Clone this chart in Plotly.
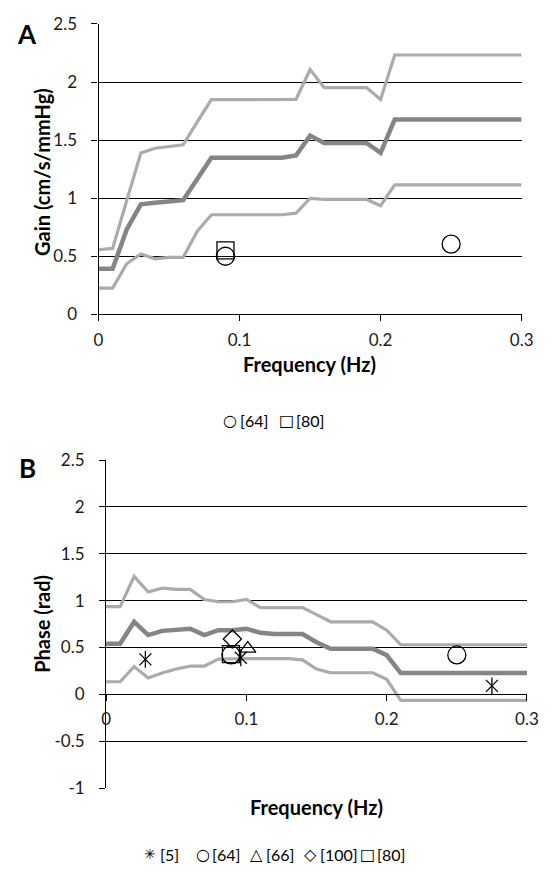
import plotly.graph_objects as go

# ---------------- data ----------------
freq = [0.00, 0.01, 0.02, 0.03, 0.04, 0.05, 0.06, 0.07, 0.08, 0.09, 0.10,
        0.11, 0.12, 0.13, 0.14, 0.15, 0.16, 0.17, 0.18, 0.19, 0.20,
        0.21, 0.22, 0.23, 0.24, 0.25, 0.26, 0.27, 0.28, 0.29, 0.30]

gain_upper = [0.556, 0.567, 0.98, 1.388, 1.43, 1.447, 1.46, 1.657, 1.848, 1.848, 1.848,
              1.848, 1.848, 1.848, 1.85, 2.107, 1.952, 1.952, 1.952, 1.952, 1.85,
              2.233, 2.233, 2.233, 2.233, 2.233, 2.233, 2.233, 2.233, 2.233, 2.233]
gain_mean = [0.393, 0.393, 0.73, 0.947, 0.96, 0.969, 0.983, 1.166, 1.348, 1.348, 1.348,
             1.348, 1.348, 1.348, 1.368, 1.539, 1.475, 1.475, 1.475, 1.475, 1.39,
             1.677, 1.677, 1.677, 1.677, 1.677, 1.677, 1.677, 1.677, 1.677, 1.677]
gain_lower = [0.225, 0.225, 0.435, 0.52, 0.478, 0.49, 0.49, 0.716, 0.857, 0.857, 0.857,
              0.857, 0.857, 0.857, 0.871, 0.997, 0.989, 0.989, 0.989, 0.989, 0.935,
              1.115, 1.115, 1.115, 1.115, 1.115, 1.115, 1.115, 1.115, 1.115, 1.115]

phase_upper = [0.936, 0.936, 1.258, 1.092, 1.133, 1.12, 1.12, 1.012, 0.988, 0.988, 1.012,
               0.926, 0.926, 0.926, 0.926, 0.85, 0.774, 0.774, 0.774, 0.774, 0.684,
               0.529, 0.529, 0.529, 0.529, 0.529, 0.529, 0.529, 0.529, 0.529, 0.529]
phase_mean = [0.539, 0.539, 0.774, 0.632, 0.677, 0.69, 0.70, 0.632, 0.684, 0.684, 0.70,
              0.656, 0.643, 0.643, 0.643, 0.556, 0.487, 0.487, 0.487, 0.487, 0.418,
              0.227, 0.227, 0.227, 0.227, 0.227, 0.227, 0.227, 0.227, 0.227, 0.227]
phase_lower = [0.134, 0.134, 0.296, 0.175, 0.227, 0.27, 0.30, 0.30, 0.375, 0.38, 0.38,
               0.38, 0.38, 0.38, 0.368, 0.27, 0.23, 0.23, 0.23, 0.23, 0.16,
               -0.065, -0.065, -0.065, -0.065, -0.065, -0.065, -0.065, -0.065, -0.065, -0.065]

# study points, gain panel
gA_64_x = [0.09, 0.25]
gA_64_y = [0.50, 0.604]
gA_80_x = [0.09]
gA_80_y = [0.55]

# study points, phase panel
pB_5_x = [0.028, 0.096, 0.275]
pB_5_y = [0.373, 0.39, 0.09]
pB_64_x = [0.089, 0.25]
pB_64_y = [0.42, 0.42]
pB_66_x = [0.101]
pB_66_y = [0.487]
pB_100_x = [0.09]
pB_100_y = [0.59]
pB_80_x = [0.089]
pB_80_y = [0.428]

x_ticks = [0, 0.1, 0.2, 0.3]
x_ticktext = ["0", "0.1", "0.2", "0.3"]
yA_ticks = [0, 0.5, 1, 1.5, 2, 2.5]
yA_ticktext = ["0", "0.5", "1", "1.5", "2", "2.5"]
yB_ticks = [-1, -0.5, 0, 0.5, 1, 1.5, 2, 2.5]
yB_ticktext = ["-1", "-0.5", "0", "0.5", "1", "1.5", "2", "2.5"]

legendA_labels = ["[64]", "[80]"]
legendA_glyphs = ["○", "□"]
legendB_labels = ["[5]", "[64]", "[66]", "[100]", "[80]"]
legendB_glyphs = ["✳", "○", "△", "◇", "□"]

# ---------------- layout helpers ----------------
W, H = 554, 881
FONT = "Lato"
SYMFONT = "DejaVu Sans"
LIGHT = "#ABABAB"
DARK = "#858585"


def px_x(p):
    return p / W


def px_y(p):
    return 1 - p / H


fig = go.Figure()

# Panel A lines
for ys, col, w in [(gain_upper, LIGHT, 3.2), (gain_lower, LIGHT, 3.2), (gain_mean, DARK, 4.5)]:
    fig.add_trace(go.Scatter(x=freq, y=ys, mode="lines", line=dict(color=col, width=w),
                             showlegend=False, hoverinfo="skip", xaxis="x", yaxis="y"))

ln = dict(color="black", width=1.3)
fig.add_trace(go.Scatter(x=gA_64_x, y=gA_64_y, mode="markers", name="[64]", showlegend=False,
                         marker=dict(symbol="circle-open", color="black", size=18, line=ln),
                         xaxis="x", yaxis="y"))
fig.add_trace(go.Scatter(x=gA_80_x, y=gA_80_y, mode="markers", name="[80]", showlegend=False,
                         marker=dict(symbol="square-open", color="black", size=17, line=ln),
                         xaxis="x", yaxis="y"))

# Panel B lines
for ys, col, w in [(phase_upper, LIGHT, 3.2), (phase_lower, LIGHT, 3.2), (phase_mean, DARK, 4.5)]:
    fig.add_trace(go.Scatter(x=freq, y=ys, mode="lines", line=dict(color=col, width=w),
                             showlegend=False, hoverinfo="skip", xaxis="x2", yaxis="y2"))

fig.add_trace(go.Scatter(x=pB_5_x, y=pB_5_y, mode="markers", name="[5]", showlegend=False,
                         marker=dict(symbol="x-thin-open", color="black", size=12, line=ln),
                         xaxis="x2", yaxis="y2"))
fig.add_trace(go.Scatter(x=pB_5_x, y=pB_5_y, mode="markers", name="[5]", showlegend=False,
                         marker=dict(symbol="line-ns-open", color="black", size=12, line=ln),
                         xaxis="x2", yaxis="y2"))
fig.add_trace(go.Scatter(x=pB_64_x, y=pB_64_y, mode="markers", name="[64]", showlegend=False,
                         marker=dict(symbol="circle-open", color="black", size=18, line=ln),
                         xaxis="x2", yaxis="y2"))
fig.add_trace(go.Scatter(x=pB_66_x, y=pB_66_y, mode="markers", name="[66]", showlegend=False,
                         marker=dict(symbol="triangle-up-open", color="black", size=14, line=ln),
                         xaxis="x2", yaxis="y2"))
fig.add_trace(go.Scatter(x=pB_100_x, y=pB_100_y, mode="markers", name="[100]", showlegend=False,
                         marker=dict(symbol="diamond-open", color="black", size=14, line=ln),
                         xaxis="x2", yaxis="y2"))
fig.add_trace(go.Scatter(x=pB_80_x, y=pB_80_y, mode="markers", name="[80]", showlegend=False,
                         marker=dict(symbol="square-open", color="black", size=17, line=ln),
                         xaxis="x2", yaxis="y2"))

tickfont = dict(family=FONT, size=17, color="#1a1a1a")
axis_common = dict(showline=True, linecolor="black", linewidth=1.2, ticks="outside",
                   ticklen=6, tickcolor="black", tickwidth=1.2, tickfont=tickfont,
                   zeroline=False, fixedrange=True)

A_x0, A_x1, A_y0, A_y1 = 96.5, 533, 13.3, 310.7
B_x0, B_x1, B_y0, B_y1 = 104.3, 538.5, 460, 796
B_zero = 699.5

fig.update_layout(
    width=W, height=H,
    margin=dict(l=0, r=0, t=0, b=0),
    paper_bgcolor="white", plot_bgcolor="white",
    font=dict(family=FONT, color="black"),
    showlegend=False,
    xaxis=dict(domain=[px_x(A_x0), px_x(A_x1)], range=[0, 0.3], anchor="y",
               tickvals=x_ticks, ticktext=x_ticktext, showgrid=False,
               ticklabelstandoff=4, **axis_common),
    yaxis=dict(domain=[px_y(A_y1), px_y(A_y0)], range=[0, 2.5], anchor="x",
               tickvals=yA_ticks, ticktext=yA_ticktext, showgrid=True,
               gridcolor="black", gridwidth=1.2, ticklabelstandoff=11, **axis_common),
    xaxis2=dict(domain=[px_x(B_x0), px_x(B_x1)], range=[0, 0.3], anchor="free",
                position=px_y(B_zero), tickvals=x_ticks, ticktext=x_ticktext,
                showgrid=False, ticklabelstandoff=4, **axis_common),
    yaxis2=dict(domain=[px_y(B_y1), px_y(B_y0)], range=[-1, 2.5], anchor="x2",
                tickvals=yB_ticks, ticktext=yB_ticktext, showgrid=True,
                gridcolor="black", gridwidth=1.2, ticklabelstandoff=11, **axis_common),
)

annots = [
    dict(text="<b>A</b>", x=px_x(23), y=px_y(24), font=dict(family=FONT, size=26)),
    dict(text="<b>B</b>", x=px_x(23), y=px_y(468), font=dict(family=FONT, size=26)),
    dict(text="<b>Gain (cm/s/mmHg)</b>", x=px_x(38), y=px_y(165), textangle=-90,
         font=dict(family=FONT, size=20)),
    dict(text="<b>Phase (rad)</b>", x=px_x(38), y=px_y(628), textangle=-90,
         font=dict(family=FONT, size=20)),
    dict(text="<b>Frequency (Hz)</b>", x=px_x(314), y=px_y(362), font=dict(family=FONT, size=20)),
    dict(text="<b>Frequency (Hz)</b>", x=px_x(321), y=px_y(815), font=dict(family=FONT, size=20)),
]
for a in annots:
    a.update(xanchor="center")

# manual legends (symbol glyph + label text)
legA_sym_x = [232, 290]
legB_sym_x = [150, 204, 259, 315, 374]
LEG_A_Y, LEG_B_Y = 420, 864
for gx, g, lab in zip(legA_sym_x, legendA_glyphs, legendA_labels):
    annots.append(dict(text=g, x=px_x(gx), y=px_y(LEG_A_Y), xanchor="center",
                       font=dict(family=SYMFONT, size=16)))
    annots.append(dict(text=lab, x=px_x(gx + 8), y=px_y(LEG_A_Y), xanchor="left",
                       font=dict(family=FONT, size=16)))
for gx, g, lab in zip(legB_sym_x, legendB_glyphs, legendB_labels):
    annots.append(dict(text=g, x=px_x(gx), y=px_y(LEG_B_Y), xanchor="center",
                       font=dict(family=SYMFONT, size=14 if g == "✳" else 16)))
    annots.append(dict(text=lab, x=px_x(gx + 8), y=px_y(LEG_B_Y), xanchor="left",
                       font=dict(family=FONT, size=16)))

for a in annots:
    a.update(xref="paper", yref="paper", showarrow=False, yanchor="middle")
fig.update_layout(annotations=annots)

fig.write_html("out.html")
